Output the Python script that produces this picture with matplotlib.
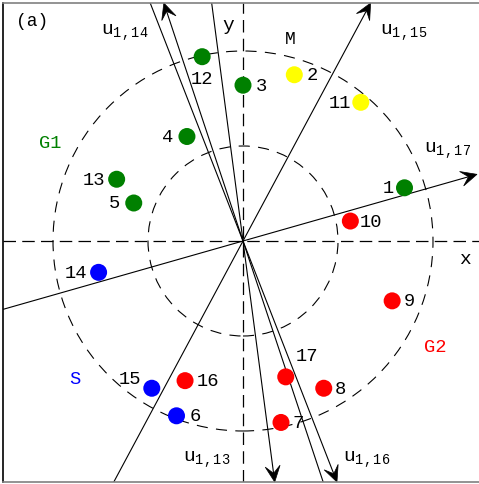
import numpy as np
import matplotlib
matplotlib.use('Agg')
import matplotlib.pyplot as plt
from matplotlib.patches import Circle, Polygon

plt.rcParams['font.family'] = ['Liberation Mono', 'DejaVu Sans Mono']
plt.rcParams['mathtext.fontset'] = 'custom'
plt.rcParams['mathtext.rm'] = 'Liberation Mono'
plt.rcParams['mathtext.it'] = 'Liberation Mono'
plt.rcParams['mathtext.default'] = 'rm'
plt.rcParams['lines.scale_dashes'] = False

# points (units: inner circle radius = 1)
ids = [1, 2, 3, 4, 5, 6, 7, 8, 9, 10, 11, 12, 13, 14, 15, 16, 17]
px = [1.70, 0.54, 0.00, -0.59, -1.15, -0.70, 0.40, 0.85, 1.57, 1.13, 1.24, -0.43, -1.33, -1.52, -0.96, -0.61, 0.45]
py = [0.56, 1.75, 1.64, 1.10, 0.40, -1.84, -1.91, -1.55, -0.63, 0.21, 1.46, 1.94, 0.65, -0.33, -1.55, -1.47, -1.43]
groups = ['G1', 'M', 'G1', 'G1', 'G1', 'S', 'G2', 'G2', 'G2', 'G2', 'M', 'G1', 'G1', 'S', 'S', 'G2', 'G2']
group_colors = {'G1': 'green', 'G2': 'red', 'M': 'yellow', 'S': 'blue'}

# u_{1,k} directions (degrees)
u_names = ['13', '14', '15', '16', '17']
u_angles = [-82.5, 108.4, 61.8, -68.7, 15.9]

circle_radii = [1, 2]

# label offsets in pixels
lab_off = {1: (-16, 0), 2: (18, 0), 3: (18, 0), 4: (-19, 0), 5: (-19, 0), 6: (19, 0),
           7: (17, 0), 8: (17, 0), 9: (17, 0), 10: (21, 0), 11: (-21, 0), 12: (0, -22),
           13: (-23, 0), 14: (-23, 0), 15: (-22, 10), 16: (23, 0), 17: (21, 21)}

W, H = 479, 485
fig = plt.figure(figsize=(W / 100, H / 100), dpi=100)
# axes box in pixels: left 3, right 490 (off-image), top 4, bottom 483
ax = fig.add_axes([3 / W, 2 / H, 487 / W, 479 / H])
xlim = ((3 - 243) / 95, (490 - 243) / 95)
ylim = ((242 - 483) / 95, (242 - 4) / 95)
ax.set_xlim(*xlim)
ax.set_ylim(*ylim)
ax.set_xticks([])
ax.set_yticks([])
ax.spines['right'].set_visible(False)
ax.spines['left'].set_color('black')
ax.spines['top'].set_color('#808080')
ax.spines['bottom'].set_color('#808080')
for s in ax.spines.values():
    s.set_linewidth(1.2)

# dashed axes and circles
ax.axhline(0, color='black', lw=0.9, dashes=(9, 4.5))
ax.axvline(0, color='black', lw=0.9, dashes=(9, 4.5))
for r in circle_radii:
    ax.add_patch(Circle((0, 0), r, fill=False, lw=0.8, ec='black', ls=(0, (8, 6))))

# visible box for the vectors (right side stops at the image edge)
vis = (xlim[0], (477 - 243) / 95, ylim[0], ylim[1])


def hit(a):
    c, s = np.cos(a), np.sin(a)
    ts = []
    if c > 0: ts.append(vis[1] / c)
    if c < 0: ts.append(vis[0] / c)
    if s > 0: ts.append(vis[3] / s)
    if s < 0: ts.append(vis[2] / s)
    t = min(ts)
    return t * c, t * s


# arrow head size (data units, 95 px per unit)
HL = 16 / 95
HW = 7.5 / 95
for ang in u_angles:
    a = np.deg2rad(ang)
    tip = np.array(hit(a))
    tail = hit(a + np.pi)
    d = np.array([np.cos(a), np.sin(a)])
    n = np.array([-d[1], d[0]])
    ax.plot([tail[0], tip[0] - 0.5 * HL * d[0]], [tail[1], tip[1] - 0.5 * HL * d[1]],
            color='black', lw=0.8)
    head = [tip, tip - HL * d + HW * n, tip - 0.55 * HL * d, tip - HL * d - HW * n]
    ax.add_patch(Polygon(head, closed=True, fc='black', ec='black', lw=0.5, clip_on=False))

ax.scatter(px, py, s=150, c=[group_colors[g] for g in groups], zorder=5, linewidths=0)

for i, x, y in zip(ids, px, py):
    ax.annotate(str(i), (x, y), xytext=lab_off[i], textcoords='offset pixels',
                ha='center', va='center', fontsize=13.5)


def P(xp, yp):
    return (xp - 243) / 95, (242 - yp) / 95


ax.text(*P(32, 22), '(a)', fontsize=13, ha='center', va='center')
ax.text(*P(228, 25), 'y', fontsize=14, ha='center', va='center')
ax.text(*P(465, 260), 'x', fontsize=14, ha='center', va='center')
ax.text(*P(290, 40), 'M', fontsize=13, ha='center', va='center')
ax.text(*P(50, 144), 'G1', fontsize=13.5, ha='center', va='center', color='green')
ax.text(*P(435, 348), 'G2', fontsize=13.5, ha='center', va='center', color='red')
ax.text(*P(75, 380), 'S', fontsize=13.5, ha='center', va='center', color='blue')
u_label_pos = {'13': (207, 460), '14': (125, 33), '15': (404, 33), '16': (367, 460), '17': (448, 151)}
for n in u_names:
    ax.text(*P(*u_label_pos[n]), r'$u_{1,%s}$' % n, fontsize=14, ha='center', va='center')

fig.savefig('out.png', dpi=100)
